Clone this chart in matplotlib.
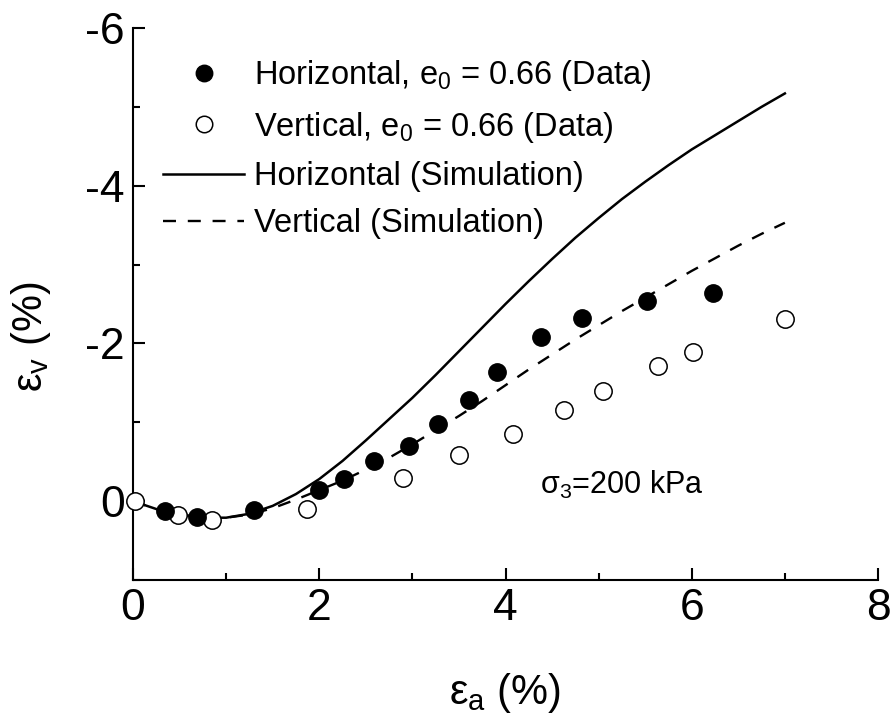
import matplotlib
matplotlib.use("Agg")
import matplotlib.pyplot as plt
from matplotlib.ticker import MultipleLocator

plt.rcParams['font.family'] = ['Liberation Sans', 'DejaVu Sans']
plt.rcParams['mathtext.fontset'] = 'custom'
plt.rcParams['mathtext.rm'] = 'Liberation Sans'
plt.rcParams['mathtext.it'] = 'Liberation Sans'
plt.rcParams['mathtext.bf'] = 'Liberation Sans:bold'
plt.rcParams['axes.unicode_minus'] = False

# Measured data: axial strain (%) vs volumetric strain (%)
horiz_ea = [0.34, 0.69, 1.30, 2.00, 2.27, 2.59, 2.96, 3.28, 3.61, 3.91, 4.38, 4.82, 5.52, 6.23]
horiz_ev = [0.13, 0.20, 0.11, -0.14, -0.28, -0.51, -0.70, -0.98, -1.28, -1.64, -2.08, -2.32, -2.54, -2.64]

vert_ea = [0.02, 0.48, 0.85, 1.87, 2.90, 3.50, 4.08, 4.63, 5.05, 5.64, 6.01, 7.00]
vert_ev = [0.00, 0.18, 0.24, 0.10, -0.29, -0.58, -0.85, -1.16, -1.40, -1.72, -1.89, -2.31]

# Simulated responses
sim_ea = [0.0, 0.25, 0.5, 0.75, 1.0, 1.25, 1.5, 1.75, 2.0, 2.25, 2.5, 2.75, 3.0, 3.25,
          3.5, 3.75, 4.0, 4.25, 4.5, 4.75, 5.0, 5.25, 5.5, 5.75, 6.0, 6.25, 6.5, 6.75, 7.0]
sim_horiz_ev = [0.0, 0.10, 0.17, 0.21, 0.21, 0.16, 0.06, -0.09, -0.28, -0.51, -0.77, -1.04,
                -1.31, -1.60, -1.90, -2.20, -2.50, -2.79, -3.07, -3.34, -3.59, -3.83, -4.05,
                -4.26, -4.46, -4.64, -4.82, -5.00, -5.17]
sim_vert_ev = [0.0, 0.10, 0.17, 0.21, 0.21, 0.17, 0.09, -0.02, -0.14, -0.26, -0.40, -0.55,
               -0.72, -0.90, -1.08, -1.27, -1.47, -1.67, -1.86, -2.05, -2.23, -2.41, -2.58,
               -2.75, -2.92, -3.08, -3.24, -3.39, -3.53]

fig = plt.figure(figsize=(8.93, 7.2), dpi=100)
ax = fig.add_axes([133 / 893, 1 - 580 / 720, 745 / 893, 552 / 720])

ax.plot(horiz_ea, horiz_ev, 'o', ms=12.5, mfc='black', mec='black', mew=1.0,
        clip_on=False, zorder=4, label='Horizontal, e$_0$ = 0.66 (Data)')
ax.plot(vert_ea, vert_ev, 'o', ms=12.5, mfc='white', mec='black', mew=1.1,
        clip_on=False, zorder=3, label='Vertical, e$_0$ = 0.66 (Data)')
ax.plot(sim_ea, sim_horiz_ev, '-', color='black', lw=1.8, zorder=2,
        label='Horizontal (Simulation)')
ax.plot(sim_ea, sim_vert_ev, '--', color='black', lw=1.7, dashes=(5.5, 5), zorder=2,
        label='Vertical (Simulation)')

ax.set_xlim(0, 8)
ax.set_ylim(1, -6)

ax.xaxis.set_major_locator(MultipleLocator(2))
ax.xaxis.set_minor_locator(MultipleLocator(1))
ax.yaxis.set_major_locator(MultipleLocator(2))
ax.yaxis.set_minor_locator(MultipleLocator(1))

ax.spines['top'].set_visible(False)
ax.spines['right'].set_visible(False)
for s in ('left', 'bottom'):
    ax.spines[s].set_linewidth(1.5)

ax.tick_params(which='major', direction='in', length=8.5, width=1.5,
               labelsize=32, pad=6)
ax.tick_params(which='minor', direction='in', length=5, width=1.5)
ax.set_yticks([-6, -4, -2, 0])

ax.set_xlabel('ε$_\\mathrm{a}$ (%)', fontsize=30, labelpad=30)
ax.set_ylabel('ε$_\\mathrm{v}$ (%)', fontsize=30)
ax.yaxis.set_label_coords(-0.107, 0.44)

ax.text(4.37, -0.2, 'σ$_3$=200 kPa', fontsize=22, va='center', ha='left')

leg = ax.legend(loc='upper left', bbox_to_anchor=(0.04, 0.945), frameon=False,
                fontsize=23.5, handlelength=2.5, handletextpad=0.3,
                labelspacing=0.5, borderpad=0, borderaxespad=0, markerscale=0.95)

fig.savefig('out.png', dpi=100)
